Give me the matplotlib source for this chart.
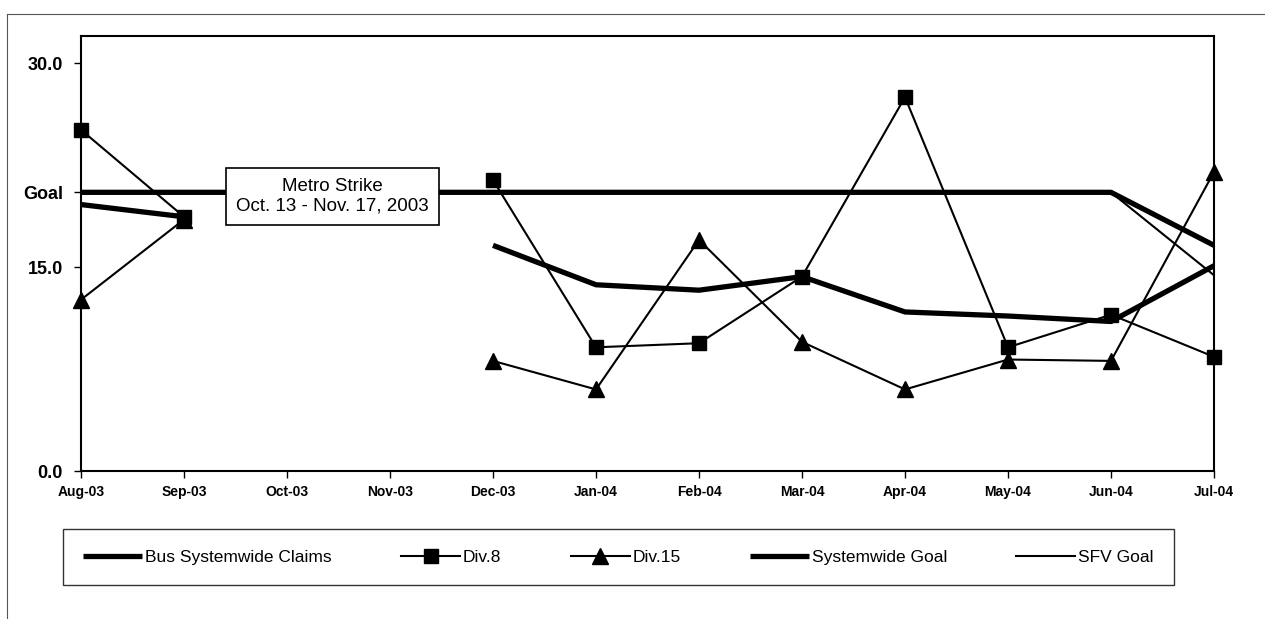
import numpy as np
import matplotlib
matplotlib.use("Agg")
import matplotlib.pyplot as plt
from matplotlib.lines import Line2D

plt.rcParams['font.family'] = ['Liberation Sans', 'DejaVu Sans']

months = ['Aug-03', 'Sep-03', 'Oct-03', 'Nov-03', 'Dec-03', 'Jan-04',
          'Feb-04', 'Mar-04', 'Apr-04', 'May-04', 'Jun-04', 'Jul-04']
nan = np.nan
bus_systemwide = [19.6, 18.7, nan, nan, 16.6, 13.7, 13.3, 14.3, 11.7, 11.4, 11.0, 15.1]
div8 = [25.1, 18.7, nan, nan, 21.4, 9.1, 9.4, 14.3, 27.5, 9.1, 11.5, 8.4]
div15 = [12.6, 18.5, nan, nan, 8.1, 6.0, 17.0, 9.5, 6.0, 8.2, 8.1, 22.0]
systemwide_goal = [20.5] * 11 + [16.6]
sfv_goal = [20.5] * 11 + [14.4]

goal_level = 20.5
ytick_vals = [0.0, 15.0, goal_level, 30.0]
ytick_labels = ['0.0', '15.0', 'Goal', '30.0']

W, H = 1265, 619
fig = plt.figure(figsize=(W / 100, H / 100), dpi=100)
fig.patch.set_facecolor('white')

# outer frame (left and top edges)
fig.add_artist(Line2D([7 / W, 7 / W], [0, 1 - 14 / H], color='#555555', lw=0.8))
fig.add_artist(Line2D([7 / W, 1], [1 - 14 / H, 1 - 14 / H], color='#555555', lw=0.8))

ax = fig.add_axes([81 / W, 1 - 471 / H, (1214 - 81) / W, (471 - 36) / H])
x = np.arange(len(months))

l_bus, = ax.plot(x, bus_systemwide, color='black', lw=3.8, solid_capstyle='butt',
                 label='Bus Systemwide Claims', zorder=4)
l_d15, = ax.plot(x, div15, color='black', lw=1.5, marker='^', markersize=11,
                 label='Div.15', zorder=5, clip_on=False)
l_d8, = ax.plot(x, div8, color='black', lw=1.5, marker='s', markersize=10,
                label='Div.8', zorder=6, clip_on=False)
l_sg, = ax.plot(x, systemwide_goal, color='black', lw=3.8, solid_capstyle='butt',
                label='Systemwide Goal', zorder=3)
l_sfv, = ax.plot(x, sfv_goal, color='black', lw=1.5, label='SFV Goal', zorder=3)

ax.set_xlim(0, 11)
ax.set_ylim(0, 32)
ax.set_xticks(x)
ax.set_xticklabels(months, fontfamily=['Liberation Sans Narrow', 'Liberation Sans'],
                   fontweight='bold', fontsize=10)
ax.set_yticks(ytick_vals)
ax.set_yticklabels(ytick_labels, fontweight='bold', fontsize=13)
ax.tick_params(axis='x', direction='out', length=5, width=1, pad=5)
ax.tick_params(axis='y', direction='out', length=5, width=1, pad=8)
for s in ax.spines.values():
    s.set_linewidth(1.5)
    s.set_color('black')

ax.text(2.44, 20.2, 'Metro Strike\nOct. 13 - Nov. 17, 2003', ha='center', va='center',
        fontsize=13.5, linespacing=1.2, zorder=8,
        bbox=dict(boxstyle='square,pad=0.55', facecolor='white', edgecolor='black', lw=1.2))

leg = fig.legend(handles=[l_bus, l_d8, l_d15, l_sg, l_sfv], loc='center',
                 bbox_to_anchor=((62 + 1175) / 2 / W, 1 - 557 / H), ncol=5,
                 frameon=True, fancybox=False, fontsize=12.5, handlelength=3.4,
                 handletextpad=0.15, columnspacing=4.0, borderpad=1.2,
                 edgecolor='black')
leg.get_frame().set_linewidth(1.0)

fig.savefig('out.png', dpi=100)
